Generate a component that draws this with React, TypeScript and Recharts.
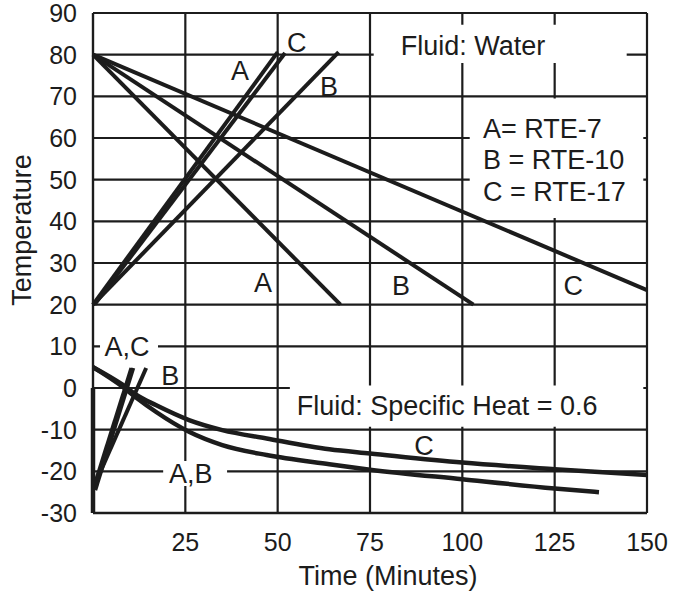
import React from 'react'
import {
    LineChart,
    Line,
    XAxis,
    YAxis,
    CartesianGrid,
    ReferenceArea,
    ReferenceDot,
} from 'recharts'

type Pt = { x: number; y: number }

// time ticks (minutes) and temperature ticks
const xTicks = [25, 50, 75, 100, 125, 150]
const yTicks = [-30, -20, -10, 0, 10, 20, 30, 40, 50, 60, 70, 80, 90]

// Fluid: Water - cooling from 80
const waterCoolA: Pt[] = [{ x: 0, y: 80 }, { x: 67, y: 20 }]
const waterCoolB: Pt[] = [{ x: 0, y: 80 }, { x: 103, y: 20 }]
const waterCoolC: Pt[] = [{ x: 0, y: 80 }, { x: 150, y: 23.5 }]

// Fluid: Water - heating from 20
const waterHeatA: Pt[] = [{ x: 0, y: 20 }, { x: 50, y: 80.6 }]
const waterHeatC: Pt[] = [{ x: 0.4, y: 20 }, { x: 52, y: 80.4 }]
const waterHeatB: Pt[] = [{ x: 0, y: 20 }, { x: 66.5, y: 80.6 }]

// Fluid: specific heat 0.6 - heating
const shHeatA: Pt[] = [{ x: 0, y: -24.5 }, { x: 10.4, y: 4.8 }]
const shHeatC: Pt[] = [{ x: 0.6, y: -24.5 }, { x: 10.9, y: 4.8 }]
const shHeatB: Pt[] = [{ x: 0.3, y: -23.5 }, { x: 14.4, y: 4.8 }]

// Fluid: specific heat 0.6 - cooling curves
const shCoolC: Pt[] = [
    { x: 0, y: 5 }, { x: 8, y: 0.8 }, { x: 12, y: -1.8 }, { x: 17, y: -4.1 },
    { x: 26, y: -7.7 }, { x: 35, y: -10.1 }, { x: 47, y: -12.1 }, { x: 64, y: -14.7 },
    { x: 75, y: -15.7 }, { x: 100, y: -17.9 }, { x: 125, y: -19.5 }, { x: 150, y: -20.9 },
]
const shCoolAB: Pt[] = [
    { x: 0, y: 5 }, { x: 8, y: 0.3 }, { x: 12, y: -2.5 }, { x: 17, y: -5.7 },
    { x: 26, y: -10.5 }, { x: 35, y: -13.7 }, { x: 47, y: -16.1 }, { x: 64, y: -18.3 },
    { x: 75, y: -19.6 }, { x: 100, y: -21.9 }, { x: 125, y: -24.1 }, { x: 137, y: -25 },
]

// heavy left edge below zero
const axisBar: Pt[] = [{ x: 0, y: 0 }, { x: 0, y: -30 }]

const legendLines = ['A= RTE-7', 'B = RTE-10', 'C = RTE-17']

const INK = '#1c1c1c'
const FONT = '"Liberation Sans", Arial, sans-serif'

const tag = (x: number, y: number, value: string, start = false) => (
    <ReferenceDot
        key={`${value}-${x}-${y}`}
        x={x}
        y={y}
        r={0}
        fill="none"
        stroke="none"
        label={{
            value,
            position: start ? 'right' : 'center',
            offset: 0,
            fontSize: 27,
            fill: INK,
            fontFamily: FONT,
        }}
    />
)

const whiteBox = (x1: number, x2: number, y1: number, y2: number) => (
    <ReferenceArea
        key={`box-${x1}-${y1}`}
        x1={x1}
        x2={x2}
        y1={y1}
        y2={y2}
        fill="#ffffff"
        fillOpacity={1}
        stroke="none"
    />
)

const series = [
    waterCoolA, waterCoolB, waterCoolC,
    waterHeatA, waterHeatC, waterHeatB,
    shHeatA, shHeatC, shHeatB,
]

export default function App() {
    return (
        <div style={{ position: 'absolute', left: 0, top: 0, background: '#fff' }}>
            <LineChart width={676} height={594} margin={{ top: 13, right: 29, bottom: 0, left: 0 }}>
                <CartesianGrid stroke={INK} strokeWidth={2.2} />
                <XAxis
                    type="number"
                    dataKey="x"
                    domain={[0, 150]}
                    ticks={xTicks}
                    height={81}
                    tickLine={false}
                    tickMargin={14}
                    axisLine={{ stroke: INK, strokeWidth: 2.5 }}
                    tick={{ fill: INK, fontSize: 25, fontFamily: FONT }}
                    label={{
                        value: 'Time (Minutes)',
                        position: 'insideBottom',
                        offset: 9,
                        dx: 18,
                        fill: INK,
                        fontSize: 27,
                        fontFamily: FONT,
                    }}
                />
                <YAxis
                    type="number"
                    dataKey="y"
                    domain={[-30, 90]}
                    ticks={yTicks}
                    width={93}
                    interval={0}
                    tickLine={false}
                    tickMargin={10}
                    axisLine={{ stroke: INK, strokeWidth: 2.2 }}
                    tick={{ fill: INK, fontSize: 25, fontFamily: FONT }}
                    label={{
                        content: (p: any) => {
                            const vb = p.viewBox || {}
                            const cx = (vb.x ?? 0) + 22
                            const cy = (vb.y ?? 0) + (vb.height ?? 0) / 2 - 33
                            return (
                                <text
                                    x={cx}
                                    y={cy}
                                    transform={`rotate(-90, ${cx}, ${cy})`}
                                    textAnchor="middle"
                                    dominantBaseline="central"
                                    fill={INK}
                                    fontSize={27}
                                    fontFamily={FONT}
                                >
                                    Temperature
                                </text>
                            )
                        },
                    }}
                />

                {whiteBox(76, 144.5, 78, 87.2)}
                {whiteBox(102, 149, 40.8, 69.5)}
                {whiteBox(53.3, 149, 0.6, -9.3)}
                {whiteBox(1.9, 17.6, 7.5, 12.5)}
                {whiteBox(19, 36.3, -17.5, -23.5)}

                {series.map((d, i) => (
                    <Line
                        key={i}
                        data={d}
                        dataKey="y"
                        type="linear"
                        stroke={INK}
                        strokeWidth={4}
                        dot={false}
                        activeDot={false}
                        isAnimationActive={false}
                    />
                ))}
                <Line data={shCoolC} dataKey="y" type="monotone" stroke={INK} strokeWidth={4.5} dot={false} activeDot={false} isAnimationActive={false} />
                <Line data={shCoolAB} dataKey="y" type="monotone" stroke={INK} strokeWidth={4.5} dot={false} activeDot={false} isAnimationActive={false} />
                <Line data={axisBar} dataKey="y" type="linear" stroke={INK} strokeWidth={4.5} dot={false} activeDot={false} isAnimationActive={false} />

                {tag(39.8, 76.3, 'A')}
                {tag(55.2, 83, 'C')}
                {tag(63.9, 72.5, 'B')}
                {tag(46, 25.4, 'A')}
                {tag(83.4, 24.7, 'B')}
                {tag(130, 24.7, 'C')}
                {tag(102.9, 82.3, 'Fluid: Water')}
                {legendLines.map((t, i) => tag(105.6, 62.4 - i * 7.6, t, true))}
                {tag(95.9, -4.1, 'Fluid: Specific Heat = 0.6')}
                {tag(9.2, 9.9, 'A,C')}
                {tag(20.9, 3.1, 'B')}
                {tag(26.5, -20.6, 'A,B')}
                {tag(89.6, -13.7, 'C')}
            </LineChart>
        </div>
    )
}
